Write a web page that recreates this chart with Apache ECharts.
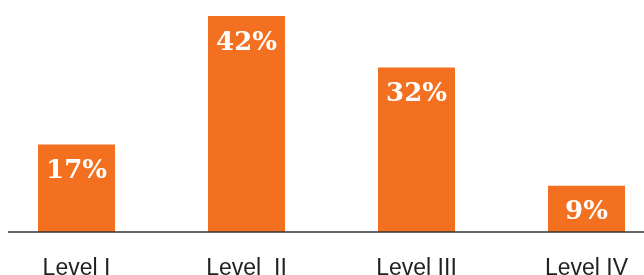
<!DOCTYPE html>
<html lang="en">
<head>
    <meta charset="UTF-8">
    <title>Levels</title>
    <script src="https://cdn.jsdelivr.net/npm/echarts@6/dist/echarts.min.js"></script>
    <style>
        html, body { margin: 0; padding: 0; background: #fff; }
        #chart { width: 644px; height: 275px; }
    </style>
</head>
<body>
    <div id="chart"></div>
    <script>
        // data
        const levels = ['Level I', 'Level  II', 'Level III', 'Level IV'];
        const shares = [17, 42, 32, 9];

        const chart = echarts.init(document.getElementById('chart'));

        const option = {
            animation: false,
            grid: { left: -8.5, width: 680, top: 16, bottom: 43, outerBoundsMode: 'none' },
            xAxis: {
                type: 'category',
                data: levels,
                axisLine: { show: false },
                axisTick: { show: false },
                axisLabel: {
                    color: '#222',
                    fontFamily: 'Liberation Sans, Arial, sans-serif',
                    fontSize: 23,
                    margin: 25
                }
            },
            yAxis: {
                type: 'value',
                min: 0,
                max: 42,
                show: false,
                splitLine: { show: false }
            },
            // baseline under the bars
            graphic: [{
                type: 'line',
                shape: { x1: 8, y1: 232, x2: 644, y2: 232 },
                style: { stroke: '#333', lineWidth: 1.5 },
                z: 10
            }],
            series: [{
                type: 'bar',
                data: shares,
                barWidth: 77,
                itemStyle: { color: '#F37021' },
                label: {
                    show: true,
                    position: 'insideTop',
                    distance: 14,
                    formatter: '{c}%',
                    color: '#fff',
                    fontFamily: 'DejaVu Serif, serif',
                    fontWeight: 'bold',
                    fontSize: 26
                }
            }]
        };

        chart.setOption(option);
    </script>
</body>
</html>
